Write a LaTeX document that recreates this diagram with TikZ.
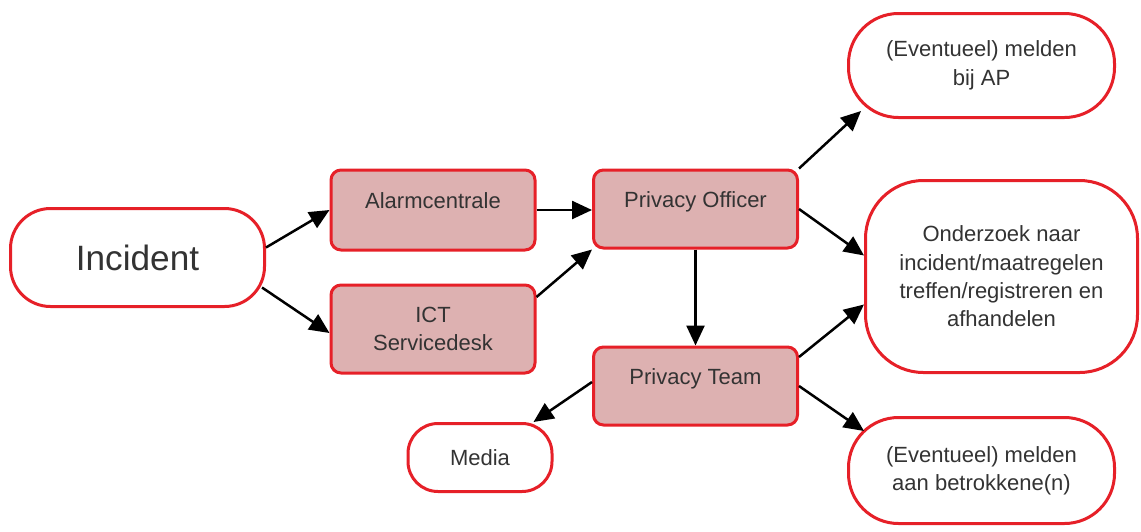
\documentclass[tikz,border=0pt]{standalone}
\usepackage{fontspec}
\setmainfont{Liberation Sans}
\usepackage{tikz}
\usetikzlibrary{arrows.meta,positioning}
\definecolor{boxred}{RGB}{230,32,40}
\definecolor{boxpink}{RGB}{221,177,177}
\definecolor{textgrey}{RGB}{51,51,51}
\tikzset
{
    flownode/.style  = {draw=boxred, line width=1.5pt, align=center, text=textgrey, inner sep=0pt, font=\fontsize{11}{14.2}\selectfont},
    roundnode/.style = {flownode, fill=white},
    pinkbox/.style   = {flownode, fill=boxpink, rounded corners=5pt, minimum width=102pt},
    topline/.style   = {text height=8pt, text depth=10pt}
}

\begin{document}
\begin{tikzpicture}[->,>={Triangle[length=10pt,width=9pt]}, line width=1.25pt, x=0.5pt, y=-0.5pt]
    \useasboundingbox (0,0) rectangle (1141,531);
    \node [roundnode, minimum width=127pt, minimum height=49pt, rounded corners=20pt, font=\fontsize{17.6}{21}\selectfont] (incident) at (137.5,257.5) {Incident};
    \node [pinkbox, topline, minimum height=40pt] (alarm) at (433,210) {Alarmcentrale};
    \node [pinkbox, minimum height=44pt] (ict) at (433,329) {ICT\\Servicedesk};
    \node [pinkbox, topline, minimum height=39pt] (officer) at (695.5,209) {Privacy Officer};
    \node [pinkbox, topline, minimum height=39pt] (team) at (695.5,386) {Privacy Team};
    \node [roundnode, minimum width=72pt, minimum height=34pt, rounded corners=15pt] (media) at (480,457.5) {Media};
    \node [roundnode, minimum width=133pt, minimum height=52pt, rounded corners=25pt] (ap) at (981.5,65.5) {(Eventueel) melden\\bij AP};
    \node [roundnode, minimum width=136pt, minimum height=96pt, rounded corners=29pt] (onderzoek) at (1001.5,276.5) {Onderzoek naar\\incident/maatregelen\\treffen/registreren en\\afhandelen};
    \node [roundnode, minimum width=133pt, minimum height=53pt, rounded corners=25pt] (betrokkene) at (981.5,470.5) {(Eventueel) melden\\aan betrokkene(n)};

    % melding komt binnen
    \draw ([shift={(0,-10)}]incident.east) -- (alarm.west);
    \draw ([shift={(-4,30)}]incident.east) -- ([shift={(0,4)}]ict.west);
    \draw (alarm.east) -- (alarm.east -| officer.west);
    \draw ([shift={(0,-32)}]ict.east) -- (officer.south west);
    \draw (officer.south) -- (team.north);

    % vervolgstappen
    \draw (officer.north east) -- ([shift={(14,-8)}]ap.south west);
    \draw (officer.east) -- ([shift={(0,-21)}]onderzoek.west);
    \draw ([shift={(0,-29)}]team.east) -- ([shift={(0,28)}]onderzoek.west);
    \draw (team.east) -- ([shift={(17,15)}]betrokkene.north west);
    \draw ([shift={(0,-4)}]team.west) -- ([shift={(-20,0)}]media.north east);
\end{tikzpicture}
\end{document}
